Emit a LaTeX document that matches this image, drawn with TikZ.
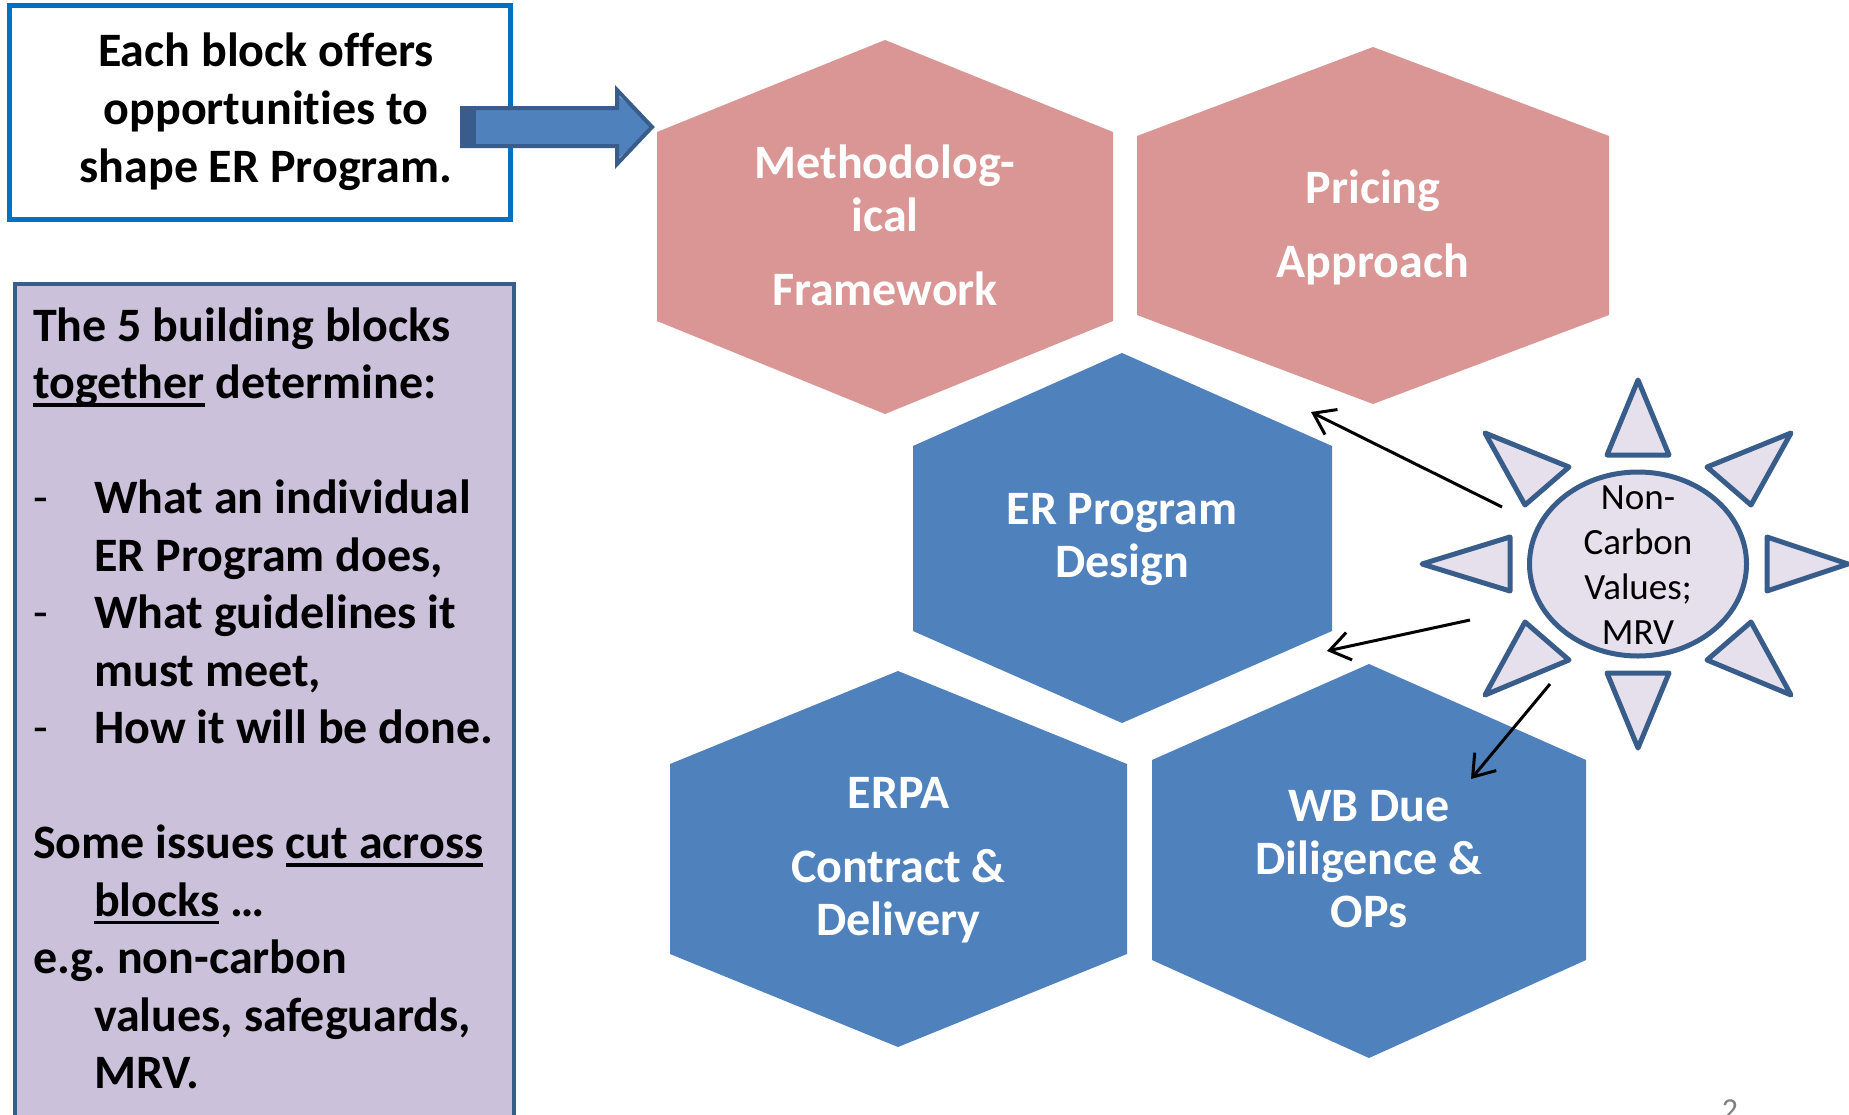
\documentclass[tikz,border=0pt]{standalone}
\usepackage{fontspec}
\setmainfont[Ligatures=NoCommon]{Carlito}
\usetikzlibrary{shapes.geometric,arrows.meta}
\definecolor{pinkhex}{HTML}{D99694}
\definecolor{bluehex}{HTML}{4F81BD}
\definecolor{darkblue}{HTML}{385D8A}
\definecolor{lilac}{HTML}{E6E0EC}
\definecolor{purplebox}{HTML}{CCC1DA}
\definecolor{topborder}{HTML}{0070C0}
\newcommand{\ulbar}[1]{\setbox0\hbox{#1}\rlap{\raisebox{-8pt}{\rule{\wd0}{3.5pt}}}\box0\relax}
\newcommand{\dashitem}{\makebox[61pt][l]{\mdseries -}}
\tikzset{
  x=1pt,y=-1pt,
  hexpink/.style={fill=pinkhex,draw=none},
  hexblue/.style={fill=bluehex,draw=none},
  hextext/.style={text=white,font=\bfseries\fontsize{48}{53}\selectfont,align=center,inner sep=0pt},
  ray/.style={fill=lilac,draw=darkblue,line width=5pt,line join=round},
  linkarrow/.style={draw=black,line width=3pt,-{Straight Barb[length=20pt,width=28pt,line width=3pt]}},
}
\begin{document}
\begin{tikzpicture}
\clip (0,0) rectangle (1849,1114);
\fill[white] (0,0) rectangle (1849,1114);

% top-left box
\node[draw=topborder,line width=5pt,fill=white,minimum width=500.5pt,minimum height=214pt,anchor=north west,inner sep=0pt] (topbox) at (7,3) {};
\node[font=\bfseries\fontsize{48}{58}\selectfont,align=center,inner sep=0pt] (toptext) at (266,112)
  {Each block offers\\opportunities to\\shape ER Program.};

% left purple box
\node[draw=darkblue,fill=purplebox,line width=4pt,minimum width=499pt,minimum height=880pt,anchor=north west,inner sep=0pt] (leftbox) at (12.5,282) {};
\node[font=\frenchspacing\bfseries\fontsize{48}{57.5}\selectfont,align=left,anchor=north west,inner sep=0pt] (lefttext) at (33,307.5)
  {The 5 building blocks\\
   \ulbar{together} determine:\\[57.5pt]
   \dashitem What an individual\\
   \hspace*{61pt}ER Program does,\\
   \dashitem What guidelines it\\
   \hspace*{61pt}must meet,\\
   \dashitem How it will be done.\\[57.5pt]
   Some issues \ulbar{cut across}\\
   \hspace*{61pt}\ulbar{blocks} …\\
   e.g. non-carbon\\
   \hspace*{61pt}values, safeguards,\\
   \hspace*{61pt}MRV.};

% block arrow
\fill[bluehex] (462,110) -- (617,110) -- (617,94) -- (652,127) -- (617,160) -- (617,144) -- (462,144) -- cycle;
\draw[darkblue,line width=4pt,line join=miter] (462,108) -- (617,108) -- (617,90) -- (652,127) -- (617,164) -- (617,146) -- (462,146) -- cycle;
\fill[darkblue] (460,107) rectangle (476,147);

% hexagons
\path[hexpink] (885,40) -- (1113,132) -- (1113,321) -- (885,414) -- (657,321) -- (657,132) -- cycle;
\node[hextext] (meth) at (885,225) {Methodolog-\\ical\\[21pt]Framework};
\path[hexpink] (1373,47) -- (1609,136) -- (1609,315) -- (1373,404) -- (1137,315) -- (1137,136) -- cycle;
\node[hextext] (pricing) at (1373,227) {Pricing\\[21pt]Approach};
\path[hexblue] (1122,353) -- (1332,446) -- (1332,631) -- (1122,723) -- (913,631) -- (913,446) -- cycle;
\node[hextext] (design) at (1122,539) {ER Program\\Design};
\path[hexblue] (898,671) -- (1127,764) -- (1127,954) -- (898,1047) -- (670,954) -- (670,764) -- cycle;
\node[hextext] (erpa) at (898.5,860.5) {ERPA\\[21pt]Contract \&\\Delivery};
\path[hexblue] (1369,664) -- (1586,760) -- (1586,960) -- (1369,1058) -- (1152,960) -- (1152,760) -- cycle;
\node[hextext] (wb) at (1369,859) {WB Due\\Diligence \&\\OPs};

% sun
\path[ray] (1638,380) -- (1669,455) -- (1607,455) -- cycle;
\path[ray] (1791,433) -- (1707,467) -- (1751,505) -- cycle;
\path[ray] (1767,537) -- (1848,564) -- (1767,591) -- cycle;
\path[ray] (1751,622) -- (1707,660) -- (1791,695) -- cycle;
\path[ray] (1607,673) -- (1669,673) -- (1638,748) -- cycle;
\path[ray] (1525,622) -- (1569,660) -- (1485,695) -- cycle;
\path[ray] (1510,537) -- (1422,564) -- (1510,591) -- cycle;
\path[ray] (1485,433) -- (1569,467) -- (1525,505) -- cycle;
\node[ellipse,draw=darkblue,fill=lilac,line width=5pt,minimum width=217pt,minimum height=184pt,inner sep=0pt] (sun) at (1638,564) {};
\node[font=\fontsize{37}{45}\selectfont,align=center,inner sep=0pt] (suntext) at (1638,565) {Non-\\Carbon\\Values;\\MRV};

% connectors
\coordinate (s1) at (1502,507);
\coordinate (e1) at (1311,412);
\coordinate (s2) at (1470,620);
\coordinate (e2) at (1327,651);
\coordinate (s3) at (1550,684);
\coordinate (e3) at (1471,779);
\draw[linkarrow] (s1) -- (e1);
\draw[linkarrow] (s2) -- (e2);
\draw[linkarrow] (s3) -- (e3);

% page number
\node[text=gray,font=\fontsize{32}{38}\selectfont,anchor=north,inner sep=0pt] (pageno) at (1730,1100) {2};
\end{tikzpicture}
\end{document}
